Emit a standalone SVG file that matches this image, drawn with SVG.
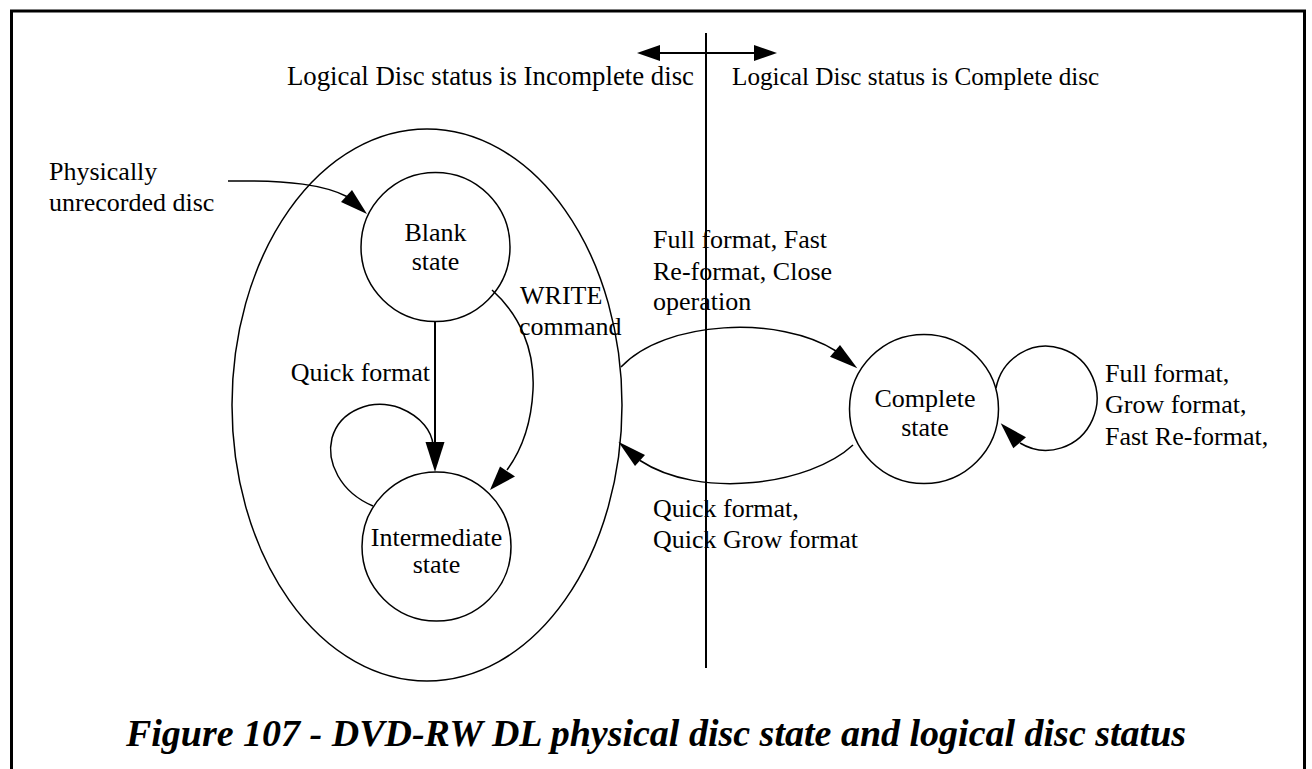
<svg xmlns="http://www.w3.org/2000/svg" width="1312" height="769" viewBox="0 0 1312 769">
<style>
  .t { font-family: "Liberation Serif", "Times New Roman", serif; font-size: 26px; fill: #000; }
  .tl { font-size: 26.8px; }
  .tr { font-size: 25.2px; }
  .c { text-anchor: middle; }
  .cap { font-family: "Liberation Serif", "Times New Roman", serif; font-size: 38px; font-weight: bold; font-style: italic; text-anchor: middle; fill: #000; }
  .n { fill: none; stroke: #000; stroke-width: 1.5; }
  .e { fill: none; stroke: #000; stroke-width: 1.5; }
  .ah { fill: #000; stroke: none; }
</style>
<rect x="0" y="0" width="1312" height="769" fill="#fff"/>
<path d="M11.5,780 V11 H1304.5 V780" fill="none" stroke="#000" stroke-width="3"/>

<g id="divider">
  <line x1="706" y1="33" x2="706" y2="668" stroke="#000" stroke-width="2"/>
  <line x1="655" y1="53" x2="760" y2="53" stroke="#000" stroke-width="2"/>
  <polygon class="ah" points="637,53 660,45 660,61"/>
  <polygon class="ah" points="777,53 754,45 754,61"/>
  <text class="t tl" x="694" y="85" text-anchor="end">Logical Disc status is Incomplete disc</text>
  <text class="t tr" x="732" y="85">Logical Disc status is Complete disc</text>
</g>

<g id="physical-container">
  <ellipse class="n" cx="427" cy="405" rx="195" ry="276"/>
</g>

<g id="start-label">
  <text class="t" x="49" y="180">Physically</text>
  <text class="t" x="49" y="211">unrecorded disc</text>
</g>

<g id="blank">
  <circle class="n" cx="435.5" cy="247" r="74.5"/>
  <text class="t c" x="435.5" y="241">Blank</text>
  <text class="t c" x="435.5" y="270">state</text>
</g>

<g id="intermediate">
  <circle class="n" cx="436.5" cy="546.5" r="74.5"/>
  <text class="t c" x="436.5" y="546">Intermediate</text>
  <text class="t c" x="436.5" y="573">state</text>
</g>

<g id="complete">
  <circle class="n" cx="924" cy="409" r="74.5"/>
  <text class="t c" x="925" y="407">Complete</text>
  <text class="t c" x="925" y="436">state</text>
</g>

<g id="connectors">
  <path class="e" d="M228,181 C290,180 325,185 348,197"/>
  <polygon class="ah" points="367,214 341,202 352,190"/>
  <line x1="435" y1="321.5" x2="435" y2="443" stroke="#000" stroke-width="2"/>
  <polygon class="ah" points="435,472 425.5,442 444.5,442"/>
  <path class="e" d="M373,506 C340,492 326,462 332,438 C340,410 372,398 400,408 C422,417 432,432 433,445"/>
  <path class="e" d="M492,290 C520,315 535,350 533,390 C531,430 518,455 507,470"/>
  <polygon class="ah" points="490,490 500,466.5 515,476.5"/>
  <path class="e" d="M621,367 C665,320 780,315 836,351"/>
  <polygon class="ah" points="857.3,368.3 830,356.7 840,345"/>
  <path class="e" d="M853,445 C810,485 700,500 640,460.5"/>
  <polygon class="ah" points="618.3,441.7 635,466 645,455"/>
  <path class="e" d="M996,388 A51,52 0 1,1 1020,443"/>
  <polygon class="ah" points="1000.7,423.3 1013.3,448.3 1026,437.3"/>
</g>

<g id="labels">
  <text class="t" x="520" y="304">WRITE</text>
  <text class="t" x="519" y="335">command</text>
  <text class="t" x="430" y="381" text-anchor="end">Quick format</text>
  <text class="t" x="653" y="248">Full format, Fast</text>
  <text class="t" x="653" y="280">Re-format, Close</text>
  <text class="t" x="653" y="310">operation</text>
  <text class="t" x="653" y="517">Quick format,</text>
  <text class="t" x="653" y="548">Quick Grow format</text>
  <text class="t" x="1105" y="382">Full format,</text>
  <text class="t" x="1105" y="413">Grow format,</text>
  <text class="t" x="1105" y="445">Fast Re-format,</text>
</g>

<text class="cap" x="656" y="746">Figure 107 - DVD-RW DL physical disc state and logical disc status</text>
</svg>
